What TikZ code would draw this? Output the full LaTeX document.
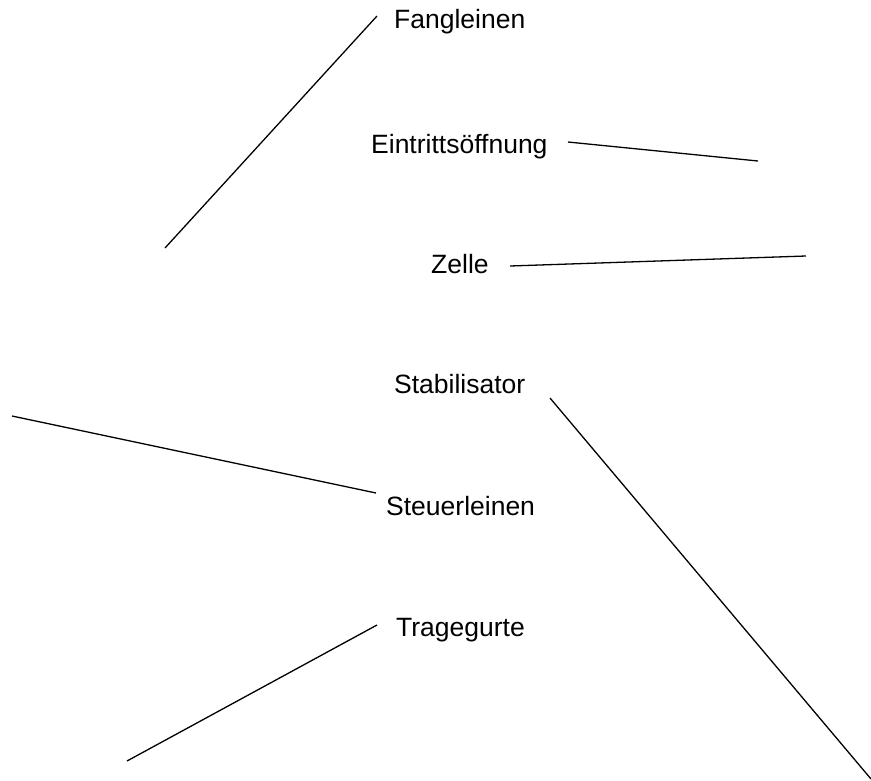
\documentclass[tikz,border=0pt]{standalone}
\usepackage{fontspec}
\setmainfont{Liberation Sans}
\begin{document}
\begin{tikzpicture}[x=1pt,y=-1pt,
  lbl/.style={anchor=base west,inner sep=0pt,font=\fontsize{26.5}{32}\selectfont},
  leader/.style={draw=black,line width=1.3pt}]
\useasboundingbox (0,0) rectangle (871,780);
\node[lbl] (fang) at (394,28) {Fangleinen};
\node[lbl] (eintritt) at (371,153) {Eintrittsöffnung};
\node[lbl] (zelle) at (431,273) {Zelle};
\node[lbl] (stab) at (394,393) {Stabilisator};
\node[lbl] (steuer) at (386,515) {Steuerleinen};
\node[lbl] (trage) at (396,636) {Tragegurte};
% leader line ends
\coordinate (fangA) at (377,16);   \coordinate (fangB) at (165,248);
\coordinate (einA) at (568,142);   \coordinate (einB) at (758,161);
\coordinate (zelA) at (510,266);   \coordinate (zelB) at (806,256);
\coordinate (stabA) at (550,398);  \coordinate (stabB) at (871,779);
\coordinate (steA) at (376,493);   \coordinate (steB) at (12,416);
\coordinate (traA) at (377,625);   \coordinate (traB) at (127,761);
\draw[leader] (fangA) -- (fangB);
\draw[leader] (einA) -- (einB);
\draw[leader] (zelA) -- (zelB);
\draw[leader] (stabA) -- (stabB);
\draw[leader] (steA) -- (steB);
\draw[leader] (traA) -- (traB);
\end{tikzpicture}
\end{document}
